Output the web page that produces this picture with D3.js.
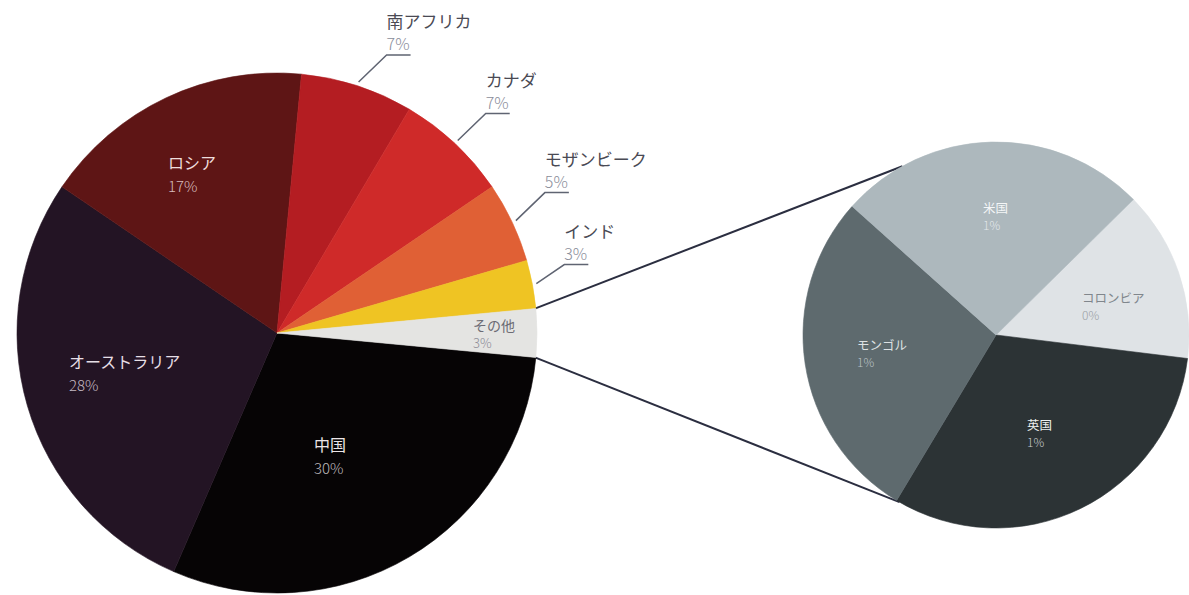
<!DOCTYPE html>
<html lang="ja">
<head>
<meta charset="utf-8">
<script src="https://cdn.jsdelivr.net/npm/d3@7/dist/d3.min.js"></script>
<style>
  html, body { margin: 0; padding: 0; background: #ffffff; }
  svg { display: block; }
  text { font-family: "Noto Sans CJK JP", "Noto Sans", sans-serif; }
</style>
</head>
<body>
<svg id="chart" width="1189" height="595"></svg>
<script>
// Main pie: share by country (%)
const mainCategories = ["中国", "オーストラリア", "ロシア", "南アフリカ", "カナダ", "モザンビーク", "インド", "その他"];
const mainValues = [30, 28, 17, 7, 7, 5, 3, 3];

// Breakdown of "その他" (%)
const subCategories = ["コロンビア", "英国", "モンゴル", "米国"];
const subValues = [0.43, 0.95, 0.84, 0.78];

// Slice colours
const mainColors = ["#060405", "#231424", "#5e1515", "#b41d22", "#cf2a29", "#e06035", "#efc423", "#e4e4e2"];
const subColors = ["#dfe3e6", "#2c3335", "#5e6a6e", "#adb8bd"];

const fmtPct = v => d3.format(".0f")(v) + "%";
const deg = d => d * Math.PI / 180;

const svg = d3.select("#chart");

// ---- geometry ----
const main = { cx: 277, cy: 333, r: 260 };
const sub = { cx: 996, cy: 335, r: 193 };

// "その他" is centred on the 3 o'clock direction
const otherShare = mainValues[mainValues.length - 1] / d3.sum(mainValues) * 360;
const mainStart = deg(90 + otherShare / 2);

const mainPie = d3.pie().sort(null).value(d => d.value)
  .startAngle(mainStart).endAngle(mainStart + 2 * Math.PI);
const mainArcs = mainPie(mainCategories.map((c, i) => ({ name: c, value: mainValues[i], color: mainColors[i] })));

const subStart = deg(45.4);
const subPie = d3.pie().sort(null).value(d => d.value)
  .startAngle(subStart).endAngle(subStart + 2 * Math.PI);
const subArcs = subPie(subCategories.map((c, i) => ({ name: c, value: subValues[i], color: subColors[i] })));

const mainArc = d3.arc().innerRadius(0).outerRadius(main.r);
const subArc = d3.arc().innerRadius(0).outerRadius(sub.r);

// point on a circle for a d3 pie angle (0 = 12 o'clock, clockwise)
const polar = (c, a, r) => [c.cx + r * Math.sin(a), c.cy - r * Math.cos(a)];

// ---- connectors from "その他" to the breakdown pie ----
const other = mainArcs[mainArcs.length - 1];
const connectors = [
  [polar(main, other.startAngle, main.r - 1), polar(sub, deg(241 + 90), sub.r)],
  [polar(main, other.endAngle, main.r - 1), polar(sub, deg(120 + 90), sub.r)]
];
svg.append("g").selectAll("line").data(connectors).join("line")
  .attr("x1", d => d[0][0]).attr("y1", d => d[0][1])
  .attr("x2", d => d[1][0]).attr("y2", d => d[1][1])
  .attr("stroke", "#2b2e40").attr("stroke-width", 2);

// ---- main pie ----
const gMain = svg.append("g").attr("transform", `translate(${main.cx},${main.cy})`);
gMain.selectAll("path").data(mainArcs).join("path")
  .attr("d", mainArc).attr("fill", d => d.data.color)
  .attr("stroke", d => d.data.color).attr("stroke-width", 0.6).attr("stroke-linejoin", "round");

// ---- breakdown pie ----
const gSub = svg.append("g").attr("transform", `translate(${sub.cx},${sub.cy})`);
gSub.selectAll("path").data(subArcs).join("path")
  .attr("d", subArc).attr("fill", d => d.data.color)
  .attr("stroke", d => d.data.color).attr("stroke-width", 0.6).attr("stroke-linejoin", "round");

// ---- labels inside the main pie (offsets from the centre) ----
const insideLabels = {
  "中国":          { dx: 37,   dy: 118,  size: 16, pctSize: 15, gap: 23, name: "#ece6e8", pct: "#bdb6b9" },
  "オーストラリア": { dx: -208, dy: 35,   size: 16, pctSize: 15, gap: 23, name: "#e6dfe6", pct: "#c3b9c3" },
  "ロシア":        { dx: -109, dy: -164, size: 16, pctSize: 15, gap: 23, name: "#eedddd", pct: "#d6bcbc" },
  "その他":        { dx: 196,  dy: -2,   size: 14, pctSize: 13, gap: 17, name: "#6b6b74", pct: "#8e8e98" }
};
mainArcs.filter(d => insideLabels[d.data.name]).forEach(d => {
  const s = insideLabels[d.data.name];
  const g = gMain.append("g").attr("transform", `translate(${s.dx},${s.dy})`);
  g.append("text").attr("font-size", s.size).attr("fill", s.name).text(d.data.name);
  g.append("text").attr("y", s.gap).attr("font-size", s.pctSize)
    .attr("font-weight", 300).attr("fill", s.pct).text(fmtPct(d.data.value));
});

// ---- outside labels with leader lines ----
const outsideLabels = {
  "南アフリカ":   { ex: 28, ey: -27 },
  "カナダ":      { ex: 28, ey: -27 },
  "モザンビーク": { ex: 29, ey: -28 },
  "インド":      { ex: 28, ey: -19 }
};
const gOut = svg.append("g");
mainArcs.filter(d => outsideLabels[d.data.name]).forEach(d => {
  const s = outsideLabels[d.data.name];
  const mid = (d.startAngle + d.endAngle) / 2;
  const p0 = polar(main, mid, main.r + 4);
  const p1 = [p0[0] + s.ex, p0[1] + s.ey];
  const p2 = [p1[0] + 24, p1[1]];
  gOut.append("polyline")
    .attr("points", [p0, p1, p2].map(p => p.join(",")).join(" "))
    .attr("fill", "none").attr("stroke", "#5f6472").attr("stroke-width", 1.5);
  gOut.append("text").attr("x", p1[0]).attr("y", p1[1] - 27)
    .attr("font-size", 17).attr("fill", "#4a4a54").text(d.data.name);
  gOut.append("text").attr("x", p1[0]).attr("y", p1[1] - 5)
    .attr("font-size", 16).attr("font-weight", 300).attr("fill", "#8a8d9a").text(fmtPct(d.data.value));
});

// ---- labels inside the breakdown pie ----
const subLabels = {
  "米国":      { dx: -13,  dy: -122, name: "#f4f6f7", pct: "#e2e7ea" },
  "コロンビア": { dx: 86,   dy: -32,  name: "#80868c", pct: "#9aa0a5" },
  "モンゴル":   { dx: -139, dy: 15,   name: "#dde1e3", pct: "#b9c1c4" },
  "英国":      { dx: 31,   dy: 95,   name: "#eef0f0", pct: "#c5cacb" }
};
subArcs.forEach(d => {
  const s = subLabels[d.data.name];
  const g = gSub.append("g").attr("transform", `translate(${s.dx},${s.dy})`);
  g.append("text").attr("font-size", 12.5).attr("fill", s.name).text(d.data.name);
  g.append("text").attr("y", 16.5).attr("font-size", 12).attr("font-weight", 300)
    .attr("fill", s.pct).text(fmtPct(d.data.value));
});
</script>
</body>
</html>
